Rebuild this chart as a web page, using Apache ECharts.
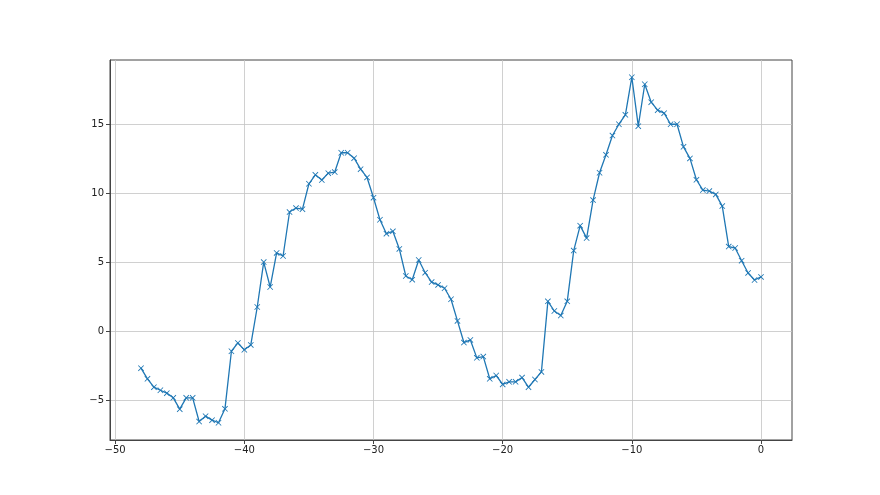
<!DOCTYPE html>
<html><head><meta charset="utf-8">
<script src="https://cdn.jsdelivr.net/npm/echarts@6/dist/echarts.min.js"></script>
<style>html,body{margin:0;padding:0;background:#fff}#c{width:880px;height:495px}</style>
</head><body><div id="c"></div>
<script>
var xStart = -48, xStep = 0.5;
var yValues = [
 -2.68,-3.45,-4.06,-4.28,-4.49,-4.83,-5.65,-4.83,-4.83,-6.55,
 -6.16,-6.45,-6.64,-5.63,-1.45,-0.85,-1.35,-0.99,1.76,5.02,
 3.21,5.68,5.46,8.65,8.94,8.86,10.70,11.35,10.97,11.47,
 11.55,12.95,12.95,12.56,11.76,11.16,9.69,8.09,7.08,7.25,
 5.97,4.01,3.74,5.17,4.25,3.57,3.36,3.12,2.32,0.75,
 -0.82,-0.63,-1.93,-1.84,-3.45,-3.21,-3.86,-3.67,-3.67,-3.36,
 -4.06,-3.50,-2.95,2.17,1.47,1.14,2.17,5.85,7.66,6.76,
 9.52,11.50,12.80,14.20,15.02,15.70,18.43,14.88,17.92,16.62,
 16.04,15.82,15.02,15.02,13.38,12.54,10.99,10.24,10.17,9.93,
 9.08,6.14,6.04,5.12,4.23,3.72,3.94
];
var xTicks = [-50,-40,-30,-20,-10,0];
var yTicks = [-5,0,5,10,15];

var pts = yValues.map(function(v,i){ return [xStart + i*xStep, v]; });
var fmt = function(v){ return String(v).replace('-', '\u2212'); };
var font = 'DejaVu Sans';
var chart = echarts.init(document.getElementById('c'));
chart.setOption({
  animation:false,
  grid:{left:110,right:88,top:60,bottom:55,show:true,borderColor:'#444',borderWidth:1,backgroundColor:'transparent'},
  xAxis:{type:'value',min:-50.4,max:2.4,
    axisLine:{show:true,onZero:false,lineStyle:{color:'#444',width:1}},
    axisTick:{show:true,customValues:xTicks,length:4,lineStyle:{color:'#444'}},
    axisLabel:{customValues:xTicks,formatter:fmt,color:'#222',fontFamily:font,fontSize:10,margin:5},
    splitLine:{show:true,lineStyle:{color:'#c4c4c4',width:0.8}}},
  yAxis:{type:'value',min:-7.89,max:19.68,
    axisLine:{show:true,onZero:false,lineStyle:{color:'#444',width:1}},
    axisTick:{show:true,customValues:yTicks,length:4,lineStyle:{color:'#444'}},
    axisLabel:{customValues:yTicks,formatter:fmt,color:'#222',fontFamily:font,fontSize:10,margin:6},
    splitLine:{show:true,lineStyle:{color:'#c4c4c4',width:0.8}}},
  series:[{type:'line',data:pts,
    lineStyle:{color:'#1f77b4',width:1.3},
    itemStyle:{color:'#1f77b4'},
    symbol:'path://M0,1L1,0L10,9L9,10Z M9,0L10,1L1,10L0,9Z',
    symbolSize:6,showAllSymbol:true}]
});
</script></body></html>
